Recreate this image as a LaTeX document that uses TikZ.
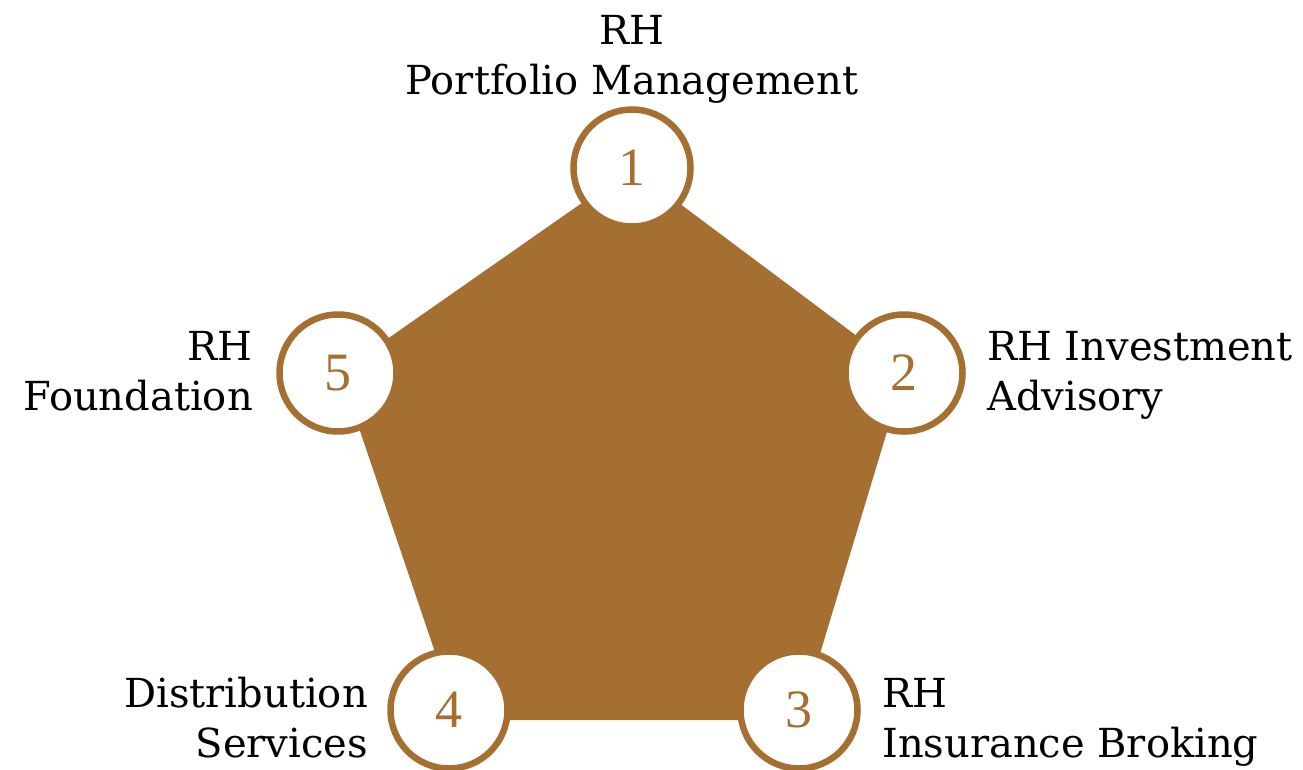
\documentclass[tikz,border=0pt]{standalone}
\usepackage{fontspec}
\setmainfont{DejaVu Serif}
\newfontfamily\digitfont{Liberation Serif}
\definecolor{rhbrown}{RGB}{165,111,49}
\tikzset{
  numring/.style={circle, draw=rhbrown, line width=6.5pt, fill=white,
    minimum size=117pt, inner sep=0pt, text=rhbrown,
    font=\digitfont\fontsize{54}{54}\selectfont},
  unitlabel/.style={inner sep=0pt, font=\fontsize{40}{50}\selectfont},
}
\begin{document}
\begin{tikzpicture}[x=1pt, y=-1pt]
	\useasboundingbox (0,0) rectangle (1303,770);
	% body of the pentagon
	\fill[color=rhbrown] (632,168) -- (905,372) -- (800,720) -- (458,720) -- (340,372) -- cycle;
	% numbered rings on the corners
	\node[numring] (u1) at (632,168) {1};
	\node[numring] (u2) at (904,373) {2};
	\node[numring] (u3) at (799,710) {3};
	\node[numring] (u4) at (449,710) {4};
	\node[numring] (u5) at (338,373) {5};
	% unit names (anchored on the baseline of the last line)
	\node[unitlabel, anchor=base, align=center] (l1) at (632,95) {RH\\Portfolio Management};
	\node[unitlabel, anchor=base west, align=left] (l2) at (987,410) {RH Investment\\Advisory};
	\node[unitlabel, anchor=base west, align=left] (l3) at (882,757) {RH\\Insurance Broking};
	\node[unitlabel, anchor=base east, align=right] (l4) at (368,757) {Distribution\\Services};
	\node[unitlabel, anchor=base east, align=right] (l5) at (253,410) {RH\\Foundation};
\end{tikzpicture}
\end{document}
